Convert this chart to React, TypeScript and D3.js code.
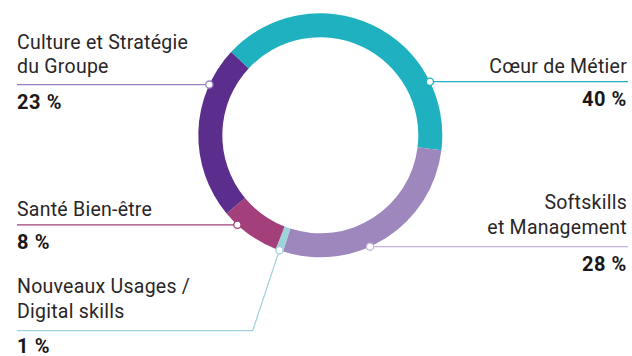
import React from "react";
import * as d3 from "d3";

const categories = ["Cœur de Métier", "Softskills et Management", "Nouveaux Usages / Digital skills", "Santé Bien-être", "Culture et Stratégie du Groupe"];
const values = [40, 28, 1, 8, 23];
const colors = ["#1fb1bf", "#9d87bd", "#9fd3dc", "#a33f7b", "#5b2d8d"];
const lineColors = ["#1fb1bf", "#c3b5de", "#9fd3dc", "#a33f7b", "#9a80c4"];
const labelLines = [["Cœur de Métier"], ["Softskills", "et Management"], ["Nouveaux Usages /", "Digital skills"], ["Santé Bien-être"], ["Culture et Stratégie", "du Groupe"]];
const pctLabels = ["40 %", "28 %", "1 %", "8 %", "23 %"];

const W = 632, H = 356;
const cx = 320.3, cy = 135.3, R = 122, r = 98;

// layout per label: side, y of leader line, text baselines
const layout = [
  { side: "right", lineY: 81.7, textY: [73.3], pctY: 105.7 },
  { side: "right", lineY: 246.7, textY: [209.3, 234.3], pctY: 270.7 },
  { side: "left", lineY: 330.7, textY: [292.7, 318.3], pctY: 352.5, elbow: true },
  { side: "left", lineY: 224.8, textY: [215.7], pctY: 249.3 },
  { side: "left", lineY: 84.6, textY: [48.5, 73.3], pctY: 109 },
];

export default function App() {
  const pie = d3.pie<number>().sort(null).value((d) => d)
    .startAngle((-47 * Math.PI) / 180).endAngle(((360 - 47) * Math.PI) / 180);
  const arcs = pie(values);
  const arcGen = d3.arc<d3.PieArcDatum<number>>().innerRadius(r).outerRadius(R);
  const leftX = 17, rightX = 628;
  const font = "Roboto, 'DejaVu Sans', sans-serif";

  return (
    <svg width={W} height={H} style={{ position: "absolute", left: 0, top: 0 }}>
      <rect width={W} height={H} fill="#fff" />
      <g transform={`translate(${cx},${cy})`}>
        {arcs.map((a, i) => (
          <path key={i} d={arcGen(a) || ""} fill={colors[i]} />
        ))}
      </g>
      {layout.map((L, i) => {
        const els: React.ReactNode[] = [];
        let dot: [number, number];
        if (L.elbow) {
          const a = (arcs[i].startAngle + arcs[i].endAngle) / 2;
          dot = [cx + R * Math.sin(a), cy - R * Math.cos(a)];
          const elbowX = 252.7;
          els.push(
            <polyline key="l" points={`${dot[0]},${dot[1]} ${elbowX},${L.lineY} ${leftX},${L.lineY}`} fill="none" stroke={lineColors[i]} strokeWidth={1.2} />
          );
        } else {
          const dy = L.lineY - cy;
          const dx = Math.sqrt(R * R - dy * dy);
          dot = [L.side === "right" ? cx + dx : cx - dx, L.lineY];
          els.push(
            <line key="l" x1={dot[0]} y1={L.lineY} x2={L.side === "right" ? rightX : leftX} y2={L.lineY} stroke={lineColors[i]} strokeWidth={1.2} />
          );
        }
        els.push(<circle key="c" cx={dot[0]} cy={dot[1]} r={3.6} fill="#fff" stroke={lineColors[i]} strokeWidth={1.3} />);
        const anchor = L.side === "right" ? "end" : "start";
        const tx = L.side === "right" ? 627 : leftX;
        labelLines[i].forEach((t, j) => {
          els.push(
            <text key={"t" + j} x={tx} y={L.textY[j]} textAnchor={anchor} fontFamily={font} fontSize={19.5} letterSpacing={0.25} fill="#2a2628">{t}</text>
          );
        });
        els.push(
          <text key="p" x={tx} y={L.pctY} textAnchor={anchor} fontFamily={font} fontSize={20} fontWeight={700} letterSpacing={0.6} fill="#1a1718">{pctLabels[i]}</text>
        );
        return <g key={i}>{els}</g>;
      })}
    </svg>
  );
}
